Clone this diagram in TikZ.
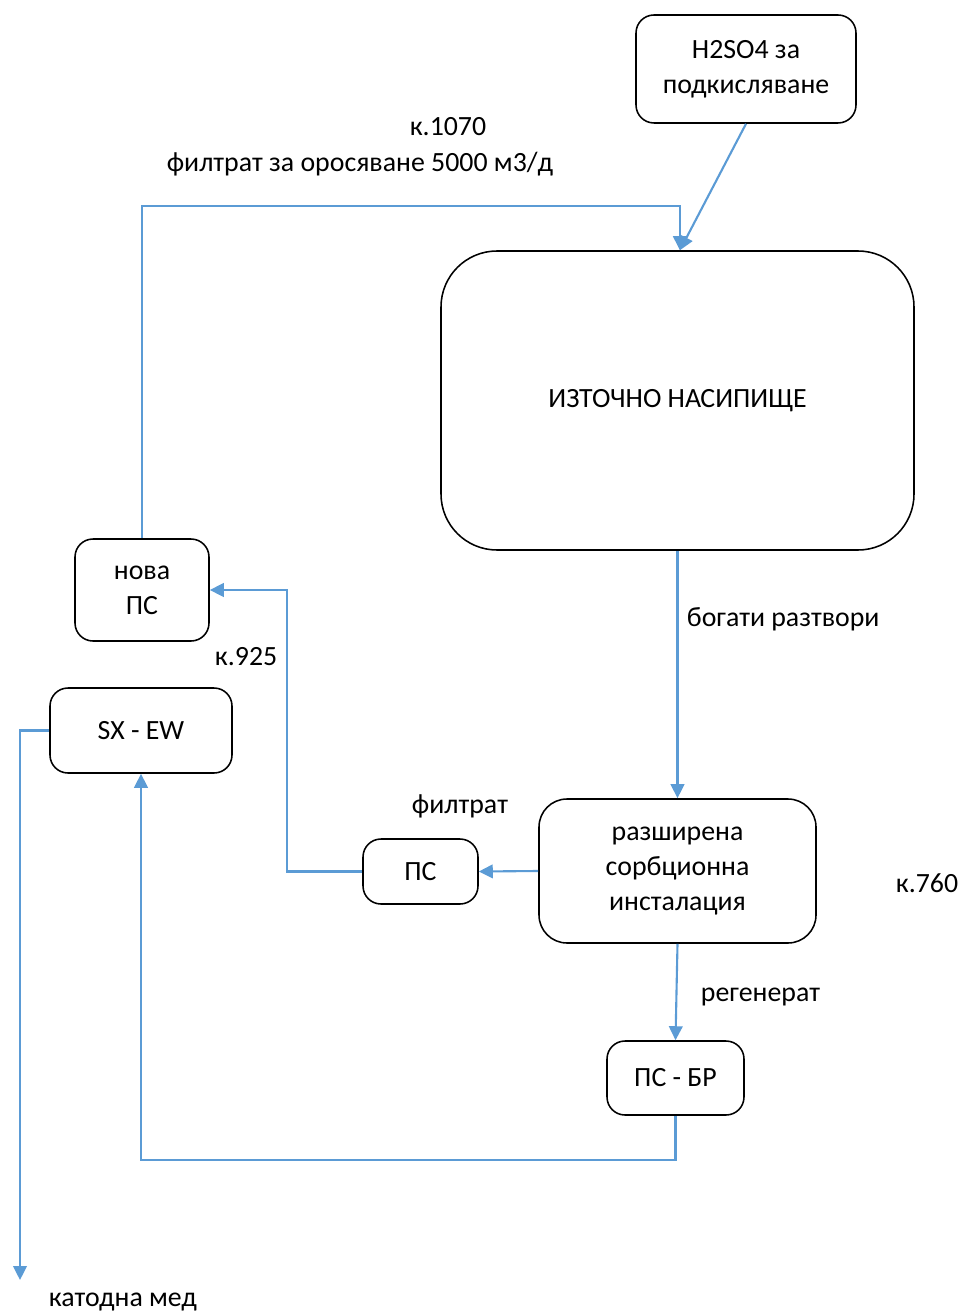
\documentclass[tikz,border=0pt]{standalone}
\usepackage{fontspec}
\setmainfont{Carlito}
\usetikzlibrary{positioning}
\usetikzlibrary{calc}
\usetikzlibrary{arrows.meta}

\begin{document}
\begin{tikzpicture}[
  box/.style={draw=black,line width=1.1pt,rounded corners=0.45cm,align=center,inner sep=0pt},
  flow/.style={draw={rgb,255:red,91;green,155;blue,213},line width=1.5pt,-{Triangle[length=0.35cm,width=0.34cm]}},
  font=\fontsize{19.8}{25}\selectfont]
\useasboundingbox (0,0) rectangle (24,-32.775);

\node[box,minimum width=5.5cm,minimum height=2.7cm](acid) at (18.65,-1.725){H2SO4 за\\подкисляване};
\node[box,minimum width=11.825cm,minimum height=7.475cm,rounded corners=1.4cm](heap) at (16.9375,-10.0125){ИЗТОЧНО НАСИПИЩЕ};
\node[box,minimum width=3.35cm,minimum height=2.55cm](newps) at (3.55,-14.75){нова\\ПС};
\node[box,minimum width=4.55cm,minimum height=2.125cm](sxew) at (3.525,-18.2625){SX - EW};
\node[box,minimum width=2.875cm,minimum height=1.625cm](ps) at (10.5125,-21.7875){ПС};
\node[box,minimum width=6.925cm,minimum height=3.6cm,rounded corners=0.7cm](sorb) at (16.9375,-21.775){разширена\\сорбционна\\инсталация};
\node[box,minimum width=3.425cm,minimum height=1.85cm](psbr) at (16.8875,-26.95){ПС - БР};

\coordinate (topbend) at (3.55,-5.15);
\coordinate (psbend) at (7.175,-21.7875);
\coordinate (bottombend) at (16.8875,-29);
\coordinate (sxbend) at (0.5,-18.2625);
\coordinate (cathode) at (0.5,-32.0);

\node[](k1070) at (11.2,-3.16){к.1070};
\node[](spray) at (9.0,-4.11){филтрат за оросяване 5000 м3/д};
\node[anchor=west](rich) at (17.05,-15.47){богати разтвори};
\node[anchor=west](k925) at (5.25,-16.42){к.925};
\node[](filtrate) at (11.5,-20.17){филтрат};
\node[](k760) at (23.175,-22.08){к.760};
\node[anchor=west](regen) at (17.4,-24.92){регенерат};
\node[anchor=west](copper) at (1.1,-32.54){катодна мед};

\path
(acid.south) edge[flow]node{} ([xshift=0.06cm]heap.north)
(heap.south) edge[flow]node{} (sorb.north)
(sorb.west) edge[flow]node{} (ps.east)
(sorb.south) edge[flow]node{} (psbr.north);
\draw[flow] (newps.north) -- (topbend) -| ([xshift=0.06cm]heap.north);
\draw[flow] (ps.west) -- (psbend) |- (newps.east);
\draw[flow] (psbr.south) -- (bottombend) -| (sxew.south);
\draw[flow] (sxew.west) -- (sxbend) -- (cathode);
\end{tikzpicture}
\end{document}
